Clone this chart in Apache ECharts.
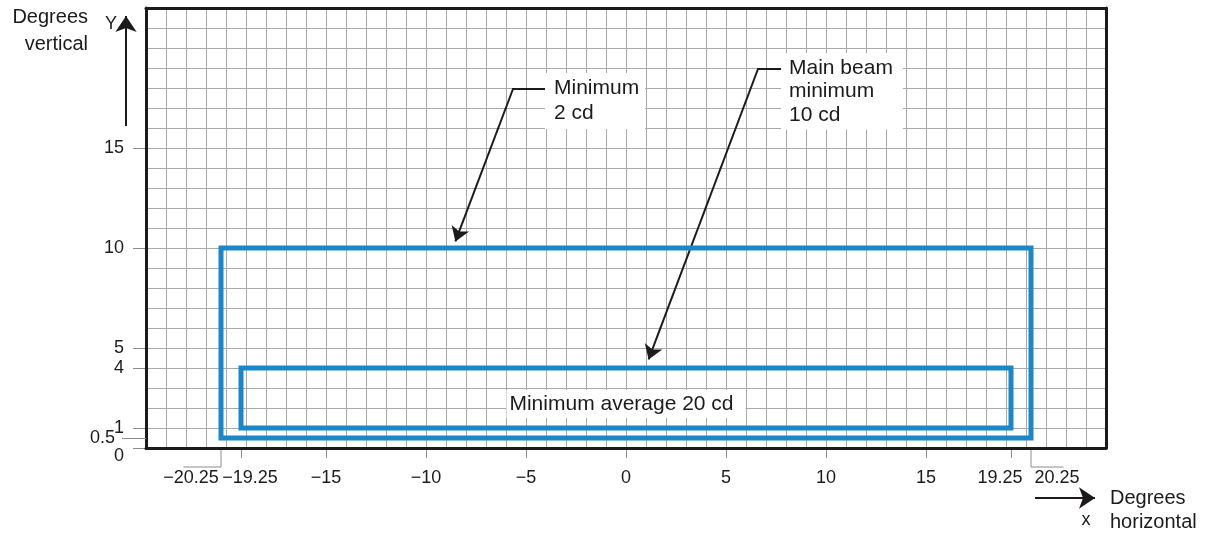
<!DOCTYPE html>
<html>
<head>
<meta charset="utf-8">
<script src="https://cdn.jsdelivr.net/npm/echarts@6/dist/echarts.min.js"></script>
<style>
html, body { margin: 0; padding: 0; background: #fff; }
#chart { width: 1215px; height: 535px; }
</style>
</head>
<body>
<div id="chart"></div>
<script>
// tick labels (degrees)
var xTicks = [-20.25, -19.25, -15, -10, -5, 0, 5, 10, 15, 19.25, 20.25];
var yTicks = [0, 0.5, 1, 4, 5, 10, 15];

// light zones, corners in degrees
var outerZone = [[-20.25, 0.5], [20.25, 0.5], [20.25, 10], [-20.25, 10], [-20.25, 0.5]];
var innerZone = [[-19.25, 1], [19.25, 1], [19.25, 4], [-19.25, 4], [-19.25, 1]];

// callouts
var calloutNames = ['Minimum\n2 cd', 'Main beam\nminimum\n10 cd', 'Minimum average 20 cd'];
var calloutAt = [[-4.05, 18.75], [7.75, 19.75], [0, 2.2]];
var calloutElbows = [[[-3.9, 17.95], [-5.65, 17.95]], [[7.75, 18.95], [6.6, 18.95]]];
var calloutArrows = [[[-5.65, 17.95], [-8.53, 10.33]], [[6.6, 18.95], [1.13, 4.43]]];

// leaders under the +-20.25 ticks
var tickLeaders = [[[-20.25, 0], [-20.25, -0.95], [-22.1, -0.95]], [[20.25, 0], [20.25, -0.95], [21.85, -0.95]]];

var ink = '#1c1a1b';
var blue = '#1a87c9';
var font = "'Liberation Sans', Arial, sans-serif";

var chart = echarts.init(document.getElementById('chart'));

function minus(v) {
  return v < 0 ? '\u2212' + Math.abs(v) : String(v);
}

function path(data, color, width) {
  return {
    type: 'line', data: data, symbol: 'none', clip: false, silent: true,
    lineStyle: { color: color, width: width, cap: 'square', join: 'miter' }
  };
}

function note(at, text, label) {
  var l = { show: true, formatter: text, color: ink, fontFamily: font, fontSize: 21 };
  for (var k in label) l[k] = label[k];
  return {
    type: 'scatter', data: [at], symbolSize: 0, clip: false, silent: true, z: 4,
    itemStyle: { opacity: 1 }, label: l
  };
}

function arrows(list, size) {
  return {
    type: 'lines', coordinateSystem: 'cartesian2d', clip: false, silent: true,
    symbol: ['none', 'arrow'], symbolSize: size,
    lineStyle: { color: ink, width: 2, opacity: 1 },
    data: list.map(function (c) { return { coords: c }; })
  };
}

// plain axis: only a line, or only the 1 degree grid
function plain(pos, isX, kind) {
  return {
    type: 'value', position: pos, min: isX ? -24 : 0, max: isX ? 24 : 22, interval: 1,
    z: kind === 'line' ? 5 : 0,
    axisLine: { show: kind === 'line', onZero: false, lineStyle: { color: ink, width: 3 } },
    axisTick: { show: false }, axisLabel: { show: false },
    splitLine: { show: kind === 'grid', lineStyle: { color: '#a9a9a9', width: 1 } }
  };
}

var tickLine = { color: '#8c8c8c', width: 1 };

var xMain = {
  type: 'value', position: 'bottom', min: -24, max: 24, interval: 1,
  axisLine: { show: false, onZero: false },
  splitLine: { show: false },
  axisTick: { show: true, customValues: [-19.25, -15, -10, -5, 0, 5, 10, 15, 19.25], length: 10, lineStyle: tickLine },
  axisLabel: {
    customValues: xTicks, margin: 21, color: ink, fontSize: 18, fontFamily: font,
    formatter: function (v) {
      if (v === -20.25) return '{a|' + minus(v) + '}';
      if (v === -19.25) return '{b|' + minus(v) + '}';
      if (v === 19.25) return '{c|' + minus(v) + '}';
      if (v === 20.25) return '{d|' + minus(v) + '}';
      return minus(v);
    },
    rich: {
      a: { fontSize: 18, fontFamily: font, color: ink, padding: [0, 60, 0, 0] },
      b: { fontSize: 18, fontFamily: font, color: ink, padding: [0, 0, 0, 18] },
      c: { fontSize: 18, fontFamily: font, color: ink, padding: [0, 22, 0, 0] },
      d: { fontSize: 18, fontFamily: font, color: ink, padding: [0, 0, 0, 52] }
    }
  }
};

var yMain = {
  type: 'value', position: 'left', min: 0, max: 22, interval: 1,
  axisLine: { show: false, onZero: false },
  splitLine: { show: false },
  axisTick: { show: true, customValues: [0, 1, 4, 5, 10, 15], length: 13, lineStyle: tickLine },
  axisLabel: {
    customValues: yTicks, margin: 22, color: ink, fontSize: 18, fontFamily: font,
    formatter: function (v) {
      if (v === 0) return '{z|0}';
      if (v === 0.5) return '{h|0.5}';
      return String(v);
    },
    rich: {
      z: { fontSize: 18, fontFamily: font, color: ink, padding: [16, 0, 0, 0] },
      h: { fontSize: 18, fontFamily: font, color: ink, padding: [0, 9, 0, 0] }
    }
  }
};

var yLeft = plain('left', false, 'line');
yLeft.axisTick = { show: true, customValues: [0.5], length: 24, lineStyle: tickLine };

var series = [
  path(outerZone, blue, 5),
  path(innerZone, blue, 5),
  path(tickLeaders[0], '#8c8c8c', 1),
  path(tickLeaders[1], '#8c8c8c', 1),
  path(calloutElbows[0], ink, 2),
  path(calloutElbows[1], ink, 2),
  arrows(calloutArrows, 14),
  arrows([[[-25, 16.1], [-25, 21.6]], [[20.45, -2.5], [23.45, -2.5]]], 16),
  note(calloutAt[0], calloutNames[0], {
    position: [0, 0], align: 'left', verticalAlign: 'top', lineHeight: 25,
    backgroundColor: '#fff', padding: [3, 6, 3, 9]
  }),
  note(calloutAt[1], calloutNames[1], {
    position: [0, 0], align: 'left', verticalAlign: 'top', lineHeight: 23.5,
    backgroundColor: '#fff', padding: [3, 10, 3, 8]
  }),
  note(calloutAt[2], calloutNames[2], {
    position: 'inside', lineHeight: 20, backgroundColor: '#fff', padding: [4, 12, 4, 3]
  }),
  note([-26.9, 20.83], 'Degrees\nvertical', { position: 'left', distance: 0, align: 'right', lineHeight: 27, fontSize: 20 }),
  note([-25.75, 21.2], 'Y', { position: 'inside', fontSize: 18 }),
  note([23, -3.6], 'x', { position: 'inside', fontSize: 18 }),
  note([24.2, -3.1], 'Degrees\nhorizontal', { position: 'right', distance: 0, align: 'left', lineHeight: 24, fontSize: 20 })
];

chart.setOption({
  animation: false,
  backgroundColor: '#fff',
  grid: { left: 146, right: 109, top: 8, bottom: 87, containLabel: false },
  xAxis: [xMain, plain('bottom', true, 'grid'), plain('bottom', true, 'line'), plain('top', true, 'line')],
  yAxis: [yMain, plain('left', false, 'grid'), yLeft, plain('right', false, 'line')],
  series: series
});
</script>
</body>
</html>
